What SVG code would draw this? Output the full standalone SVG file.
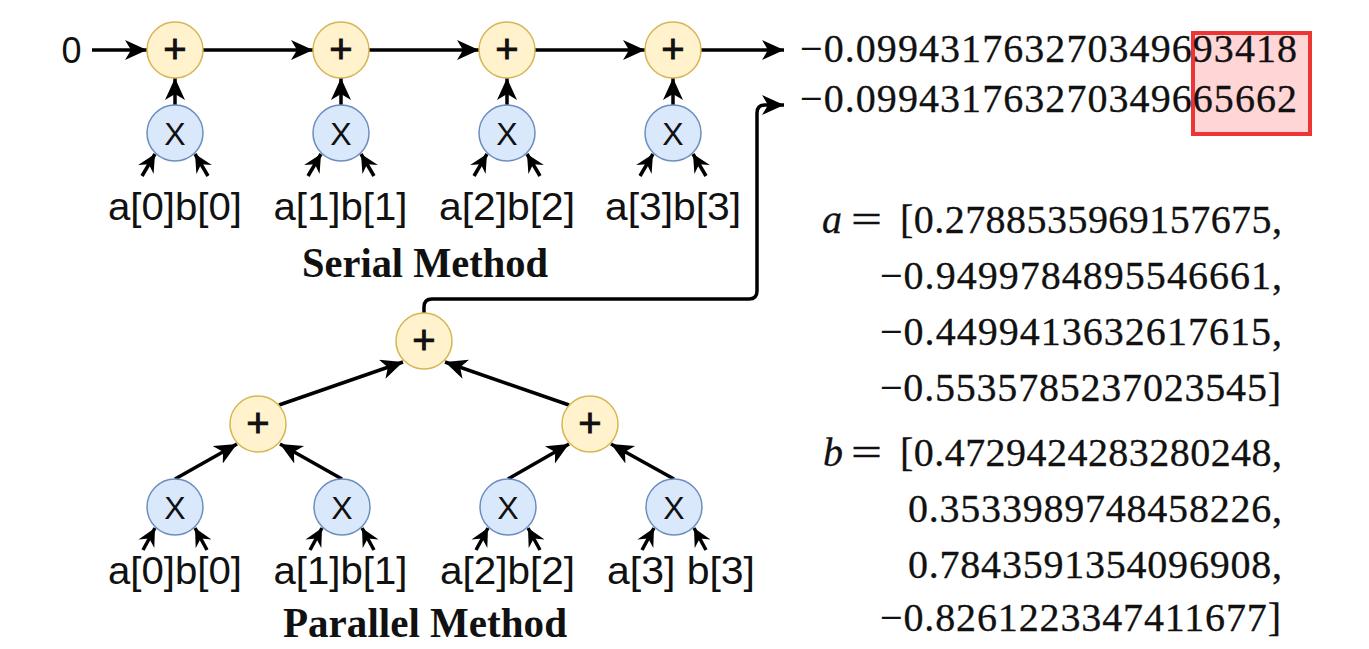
<svg xmlns="http://www.w3.org/2000/svg" width="1369" height="649" viewBox="0 0 1369 649">
  <style>
    .add { fill: #FFF2CC; stroke: #D6B656; stroke-width: 1.5; }
    .mul { fill: #DAE8FC; stroke: #6C8EBF; stroke-width: 1.5; }
    .op { font-family: "Liberation Sans", Arial, sans-serif; font-size: 32px; fill: #111; text-anchor: middle; }
    .plus { font-size: 40px; stroke: #111; stroke-width: 0.9; }
    .lbl { font-family: "Liberation Sans", Arial, sans-serif; font-size: 38px; fill: #111; text-anchor: middle; }
    .title { font-family: "Liberation Serif", "Times New Roman", serif; font-weight: bold; font-size: 42px; fill: #111; text-anchor: middle; }
    .num { font-family: "Liberation Serif", "Times New Roman", serif; font-size: 40px; fill: #111; stroke: #111; stroke-width: 0.3; }
    .end { text-anchor: end; }
    .it { font-style: italic; }
    .wire { fill: none; stroke: #000; stroke-width: 3.5; stroke-linecap: butt; stroke-linejoin: round; }
    .big { marker-end: url(#arrow); }
    .small { marker-end: url(#arrow-sm); }
  </style>
  <defs>
    <marker id="arrow" markerUnits="userSpaceOnUse" markerWidth="24" markerHeight="22" refX="22" refY="10" orient="auto">
      <path d="M0,0 L22,10 L0,20 L6,10 Z" fill="#000"/>
    </marker>
    <marker id="arrow-sm" markerUnits="userSpaceOnUse" markerWidth="20" markerHeight="20" refX="18" refY="9" orient="auto">
      <path d="M0,0 L18,9 L0,18 L6,9 Z" fill="#000"/>
    </marker>
  </defs>

  <rect width="1369" height="649" fill="#fff"/>

  <!-- connectors -->
  <g id="connectors">
    <!-- serial chain -->
    <path class="wire big" d="M92,50 H147"/>
    <path class="wire big" d="M203,50 H313"/>
    <path class="wire big" d="M369,50 H479"/>
    <path class="wire big" d="M535,50 H645"/>
    <path class="wire big" d="M701,50 H784"/>
    <path class="wire big" d="M175,105 V78"/>
    <path class="wire big" d="M341,105 V78"/>
    <path class="wire big" d="M507,105 V78"/>
    <path class="wire big" d="M673,105 V78"/>
    <!-- serial multiplier inputs -->
    <path class="wire small" d="M142,176 L155,154"/>
    <path class="wire small" d="M208,176 L195,154"/>
    <path class="wire small" d="M308,176 L321,154"/>
    <path class="wire small" d="M374,176 L361,154"/>
    <path class="wire small" d="M474,176 L487,154"/>
    <path class="wire small" d="M540,176 L527,154"/>
    <path class="wire small" d="M640,176 L653,154"/>
    <path class="wire small" d="M706,176 L693,154"/>
    <!-- parallel tree -->
    <path class="wire big" d="M279,405 L403,362"/>
    <path class="wire big" d="M569,405 L445,362"/>
    <path class="wire big" d="M175,479 L237,444"/>
    <path class="wire big" d="M342,479 L280,444"/>
    <path class="wire big" d="M508,479 L569,444"/>
    <path class="wire big" d="M674,479 L611,444"/>
    <!-- parallel multiplier inputs -->
    <path class="wire small" d="M143,550 L155,528"/>
    <path class="wire small" d="M207,550 L195,528"/>
    <path class="wire small" d="M310,550 L322,528"/>
    <path class="wire small" d="M374,550 L362,528"/>
    <path class="wire small" d="M476,550 L488,528"/>
    <path class="wire small" d="M540,550 L528,528"/>
    <path class="wire small" d="M642,550 L654,528"/>
    <path class="wire small" d="M706,550 L694,528"/>
    <!-- parallel result to output -->
    <path class="wire big" d="M424,313 V307 Q424,299 432,299 H749 Q757,299 757,291 V113 Q757,105 765,105 H784"/>
  </g>

  <!-- serial method -->
  <g id="serial-input"><text x="71.5" y="63" text-anchor="middle" fill="#111" style="font-family:'Liberation Sans',Arial,sans-serif;font-size:36px">0</text></g>
  <g id="s-add0"><circle class="add" cx="175" cy="50" r="28"/><text class="op plus" x="175" y="63">+</text></g>
  <g id="s-add1"><circle class="add" cx="341" cy="50" r="28"/><text class="op plus" x="341" y="63">+</text></g>
  <g id="s-add2"><circle class="add" cx="507" cy="50" r="28"/><text class="op plus" x="507" y="63">+</text></g>
  <g id="s-add3"><circle class="add" cx="673" cy="50" r="28"/><text class="op plus" x="673" y="63">+</text></g>
  <g id="s-mul0"><circle class="mul" cx="175" cy="133" r="28"/><text class="op" x="175" y="144.5">X</text></g>
  <g id="s-mul1"><circle class="mul" cx="341" cy="133" r="28"/><text class="op" x="341" y="144.5">X</text></g>
  <g id="s-mul2"><circle class="mul" cx="507" cy="133" r="28"/><text class="op" x="507" y="144.5">X</text></g>
  <g id="s-mul3"><circle class="mul" cx="673" cy="133" r="28"/><text class="op" x="673" y="144.5">X</text></g>
  <g id="serial-labels">
    <text class="lbl" x="175" y="220" textLength="134" lengthAdjust="spacingAndGlyphs">a[0]b[0]</text>
    <text class="lbl" x="340.5" y="220" textLength="134" lengthAdjust="spacingAndGlyphs">a[1]b[1]</text>
    <text class="lbl" x="507" y="220" textLength="136" lengthAdjust="spacingAndGlyphs">a[2]b[2]</text>
    <text class="lbl" x="673" y="220" textLength="136" lengthAdjust="spacingAndGlyphs">a[3]b[3]</text>
  </g>
  <g id="serial-title"><text class="title" x="425" y="277" textLength="246" lengthAdjust="spacingAndGlyphs">Serial Method</text></g>

  <!-- parallel method -->
  <g id="p-add-root"><circle class="add" cx="424" cy="341" r="28"/><text class="op plus" x="424" y="354">+</text></g>
  <g id="p-add-left"><circle class="add" cx="258" cy="424" r="28"/><text class="op plus" x="258" y="437">+</text></g>
  <g id="p-add-right"><circle class="add" cx="590" cy="424" r="28"/><text class="op plus" x="590" y="437">+</text></g>
  <g id="p-mul0"><circle class="mul" cx="175" cy="507" r="28"/><text class="op" x="175" y="518.5">X</text></g>
  <g id="p-mul1"><circle class="mul" cx="342" cy="507" r="28"/><text class="op" x="342" y="518.5">X</text></g>
  <g id="p-mul2"><circle class="mul" cx="508" cy="507" r="28"/><text class="op" x="508" y="518.5">X</text></g>
  <g id="p-mul3"><circle class="mul" cx="674" cy="507" r="28"/><text class="op" x="674" y="518.5">X</text></g>
  <g id="parallel-labels">
    <text class="lbl" x="175" y="584" textLength="134" lengthAdjust="spacingAndGlyphs">a[0]b[0]</text>
    <text class="lbl" x="340.5" y="584" textLength="134" lengthAdjust="spacingAndGlyphs">a[1]b[1]</text>
    <text class="lbl" x="507.5" y="584" textLength="135" lengthAdjust="spacingAndGlyphs">a[2]b[2]</text>
    <text class="lbl" x="681" y="584" textLength="148" lengthAdjust="spacingAndGlyphs">a[3] b[3]</text>
  </g>
  <g id="parallel-title"><text class="title" x="425" y="637" textLength="284" lengthAdjust="spacingAndGlyphs">Parallel Method</text></g>

  <!-- results -->
  <g id="results">
    <rect x="1193" y="33" width="117" height="101" fill="#FFD5D5" stroke="#EE3535" stroke-width="4"/>
    <text class="num" x="800" y="62" textLength="497" lengthAdjust="spacing">−0.099431763270349693418</text>
    <text class="num" x="800" y="112" textLength="497" lengthAdjust="spacing">−0.099431763270349665662</text>
  </g>

  <!-- input vectors -->
  <g id="vector-a">
    <text class="num it" x="822" y="233">a</text>
    <text class="num" x="851" y="233" textLength="31" lengthAdjust="spacingAndGlyphs">=</text>
    <text class="num end" x="1282" y="233" textLength="382" lengthAdjust="spacing">[0.2788535969157675,</text>
    <text class="num end" x="1282" y="289" textLength="402" lengthAdjust="spacing">−0.9499784895546661,</text>
    <text class="num end" x="1282" y="345" textLength="402" lengthAdjust="spacing">−0.4499413632617615,</text>
    <text class="num end" x="1281" y="401" textLength="401" lengthAdjust="spacing">−0.5535785237023545]</text>
  </g>
  <g id="vector-b">
    <text class="num it" x="823" y="466">b</text>
    <text class="num" x="851" y="466" textLength="31" lengthAdjust="spacingAndGlyphs">=</text>
    <text class="num end" x="1282" y="466" textLength="382" lengthAdjust="spacing">[0.4729424283280248,</text>
    <text class="num end" x="1282" y="522" textLength="374" lengthAdjust="spacing">0.3533989748458226,</text>
    <text class="num end" x="1282" y="578" textLength="374" lengthAdjust="spacing">0.7843591354096908,</text>
    <text class="num end" x="1281" y="631" textLength="401" lengthAdjust="spacing">−0.8261223347411677]</text>
  </g>
</svg>
